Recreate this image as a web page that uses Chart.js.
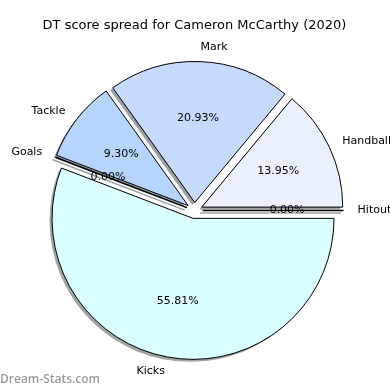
<!DOCTYPE html>
<html>
<head>
<meta charset="utf-8">
<script src="https://cdn.jsdelivr.net/npm/chart.js@4.4.1/dist/chart.umd.min.js"></script>
<style>
  body { margin: 0; background: #fff; }
  #wrap { width: 390px; height: 390px; }
</style>
</head>
<body>
<div id="wrap"><canvas id="pieChart"></canvas></div>
<script>
// DT score spread pie (clockwise from 3 o'clock)
const labels = ["Hitout", "Kicks", "Goals", "Tackle", "Mark", "Handballs"];
const scores = [0, 24, 0, 4, 9, 6];
const colours = ["#e0f0ff", "#d9ffff", "#b9d9ff", "#b5d5ff", "#c6d9ff", "#eaf0ff"];

const EXPLODE = 8;       // px each slice is pushed out
const SHADOW = [-2.5, 2.5];

Chart.defaults.font.family = "DejaVu Sans";
Chart.defaults.color = "black";

// push every slice out along its middle angle (like matplotlib's explode)
const ArcEl = Chart.ArcElement || Chart.elements.ArcElement;
const baseDraw = ArcEl.prototype.draw;
ArcEl.prototype.draw = function (ctx) {
  const mid = (this.startAngle + this.endAngle) / 2;
  ctx.save();
  ctx.translate(Math.cos(mid) * EXPLODE, Math.sin(mid) * EXPLODE);
  if (this.circumference === 0) {
    // empty slice: matplotlib still draws its edge as a line
    ctx.beginPath();
    ctx.moveTo(this.x, this.y);
    ctx.lineTo(this.x + Math.cos(mid) * this.outerRadius, this.y + Math.sin(mid) * this.outerRadius);
    ctx.strokeStyle = "#000";
    ctx.lineWidth = 1.5;
    ctx.stroke();
  } else {
    baseDraw.call(this, ctx);
  }
  ctx.restore();
};

function shade(hex) {
  const n = parseInt(hex.slice(1), 16);
  const r = Math.round(((n >> 16) & 255) * 0.3);
  const g = Math.round(((n >> 8) & 255) * 0.3);
  const b = Math.round((n & 255) * 0.3);
  return "rgba(" + r + "," + g + "," + b + ",0.5)";
}

const pieExtras = {
  id: "pieExtras",
  beforeDatasetsDraw(chart) {
    const ctx = chart.ctx;
    chart.getDatasetMeta(0).data.forEach((arc, i) => {
      const mid = (arc.startAngle + arc.endAngle) / 2;
      ctx.save();
      ctx.translate(Math.cos(mid) * EXPLODE + SHADOW[0], Math.sin(mid) * EXPLODE + SHADOW[1]);
      ctx.fillStyle = shade(colours[i]);
      ctx.strokeStyle = shade(colours[i]);
      ctx.lineWidth = 1.5;
      ctx.beginPath();
      ctx.moveTo(arc.x, arc.y);
      if (arc.circumference === 0) {
        ctx.lineTo(arc.x + Math.cos(mid) * arc.outerRadius, arc.y + Math.sin(mid) * arc.outerRadius);
        ctx.stroke();
      } else {
        ctx.arc(arc.x, arc.y, arc.outerRadius, arc.startAngle, arc.endAngle);
        ctx.closePath();
        ctx.fill();
      }
      ctx.restore();
    });
  },
  afterDatasetsDraw(chart) {
    const ctx = chart.ctx;
    const total = scores.reduce((a, b) => a + b, 0);
    ctx.save();
    ctx.font = "11px 'DejaVu Sans'";
    ctx.fillStyle = "#000";
    ctx.textBaseline = "middle";
    chart.getDatasetMeta(0).data.forEach((arc, i) => {
      const mid = (arc.startAngle + arc.endAngle) / 2;
      const cx = arc.x + Math.cos(mid) * EXPLODE;
      const cy = arc.y + Math.sin(mid) * EXPLODE;
      const r = arc.outerRadius;
      // category label outside
      ctx.textAlign = Math.cos(mid) > 0 ? "left" : "right";
      ctx.fillText(labels[i], cx + Math.cos(mid) * r * 1.1, cy + Math.sin(mid) * r * 1.1);
      // percentage inside
      ctx.textAlign = "center";
      const pct = (scores[i] / total * 100).toFixed(2) + "%";
      ctx.fillText(pct, cx + Math.cos(mid) * r * 0.6, cy + Math.sin(mid) * r * 0.6);
    });
    // watermark
    ctx.font = "600 12px 'Open Sans'";
    ctx.fillStyle = "#9a9a9a";
    ctx.textAlign = "left";
    ctx.fillText("Dream-Stats.com", 0, 380);
    ctx.restore();
  },
};

const data = {
  labels: labels,
  datasets: [
    {
      data: scores,
      backgroundColor: colours,
      borderColor: "#000",
      borderWidth: 1,
    },
  ],
};

const config = {
  type: "pie",
  data: data,
  options: {
    responsive: true,
    maintainAspectRatio: false,
    animation: false,
    rotation: 90,
    radius: 141,
    layout: {
      padding: { left: 0, right: 1, top: 0, bottom: 2.6 },
    },
    plugins: {
      legend: { display: false },
      tooltip: { enabled: false },
      title: {
        display: true,
        text: "DT score spread for Cameron McCarthy (2020)",
        font: { size: 13, weight: "normal" },
        color: "#000",
        padding: { top: 18, bottom: 0 },
      },
    },
  },
  plugins: [pieExtras],
};

const pieChart = new Chart(document.getElementById("pieChart").getContext("2d"), config);
</script>
</body>
</html>
